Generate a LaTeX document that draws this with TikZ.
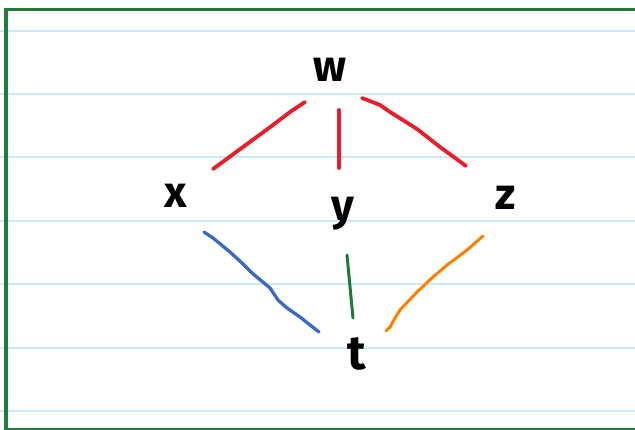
\documentclass[tikz,border=0pt]{standalone}
\usepackage{fontspec}
\setmainfont{Fira Sans}
\usetikzlibrary{calc}
\definecolor{paperline}{RGB}{206,233,250}
\definecolor{frame}{RGB}{30,125,58}
\definecolor{hred}{RGB}{232,30,42}
\definecolor{hblue}{RGB}{58,106,196}
\definecolor{hgreen}{RGB}{30,122,52}
\definecolor{horange}{RGB}{255,128,0}
\begin{document}
\begin{tikzpicture}[x=1pt,y=-1pt,
  letter/.style={inner sep=0pt, font=\fontsize{44}{48}\selectfont\bfseries, text=black},
  stroke/.style={line width=3.8pt, line cap=round, line join=round}]
\useasboundingbox (0,0) rectangle (635,430);
\fill[white] (0,0) rectangle (635,430);
% paper lines
\foreach \yy in {31,94,157.5,221,284.5,348,411}
  \draw[paperline, line width=2pt] (0,\yy) -- (635,\yy);
% frame
\draw[frame, line width=3.2pt] (6,430) -- (6,9.5) -- (635,9.5);
\draw[frame, line width=1.5pt] (6,428.8) -- (635,428.8);
% letters
\node[letter] (w) at (330,70) {w};
\node[letter] (x) at (176,196) {x};
\node[letter] (y) at (343,214) {y};
\node[letter] (z) at (506,198) {z};
\node[letter, font=\fontsize{48}{52}\selectfont\bfseries] (t) at (357,354) {t};
% connectors
\draw[stroke, hred] ($(w)+(-25,32)$) -- (290,112) -- (273,125) -- (258,136) -- (243,147) -- ($(x)+(37,-27)$);
\draw[stroke, hred] ($(w)+(9,40)$) -- ($(y)+(-4,-46)$);
\draw[stroke, hred] ($(w)+(32,28)$) -- (380,105) -- (390,112) -- (398,117) -- (417,129) -- (440,147) -- ($(z)+(-40,-32)$);
\draw[stroke, hblue, line width=3.3pt] ($(x)+(28,36)$) -- (213,238) -- (230,252) -- (242,263) -- (252,273) -- (270,288) -- (278,300) -- (287,308) -- (300,317) -- (310,325) -- ($(t)+(-38,-22)$);
\draw[stroke, hgreen, line width=3pt] ($(y)+(4,41)$) -- ($(t)+(-4,-36)$);
\draw[stroke, horange, line width=3pt] ($(z)+(-23,38)$) -- (467,250) -- (447,265) -- (433,277) -- (417,292) -- (400,310) -- (395,318) -- (390,327) -- ($(t)+(29,-23)$);
\end{tikzpicture}
\end{document}
